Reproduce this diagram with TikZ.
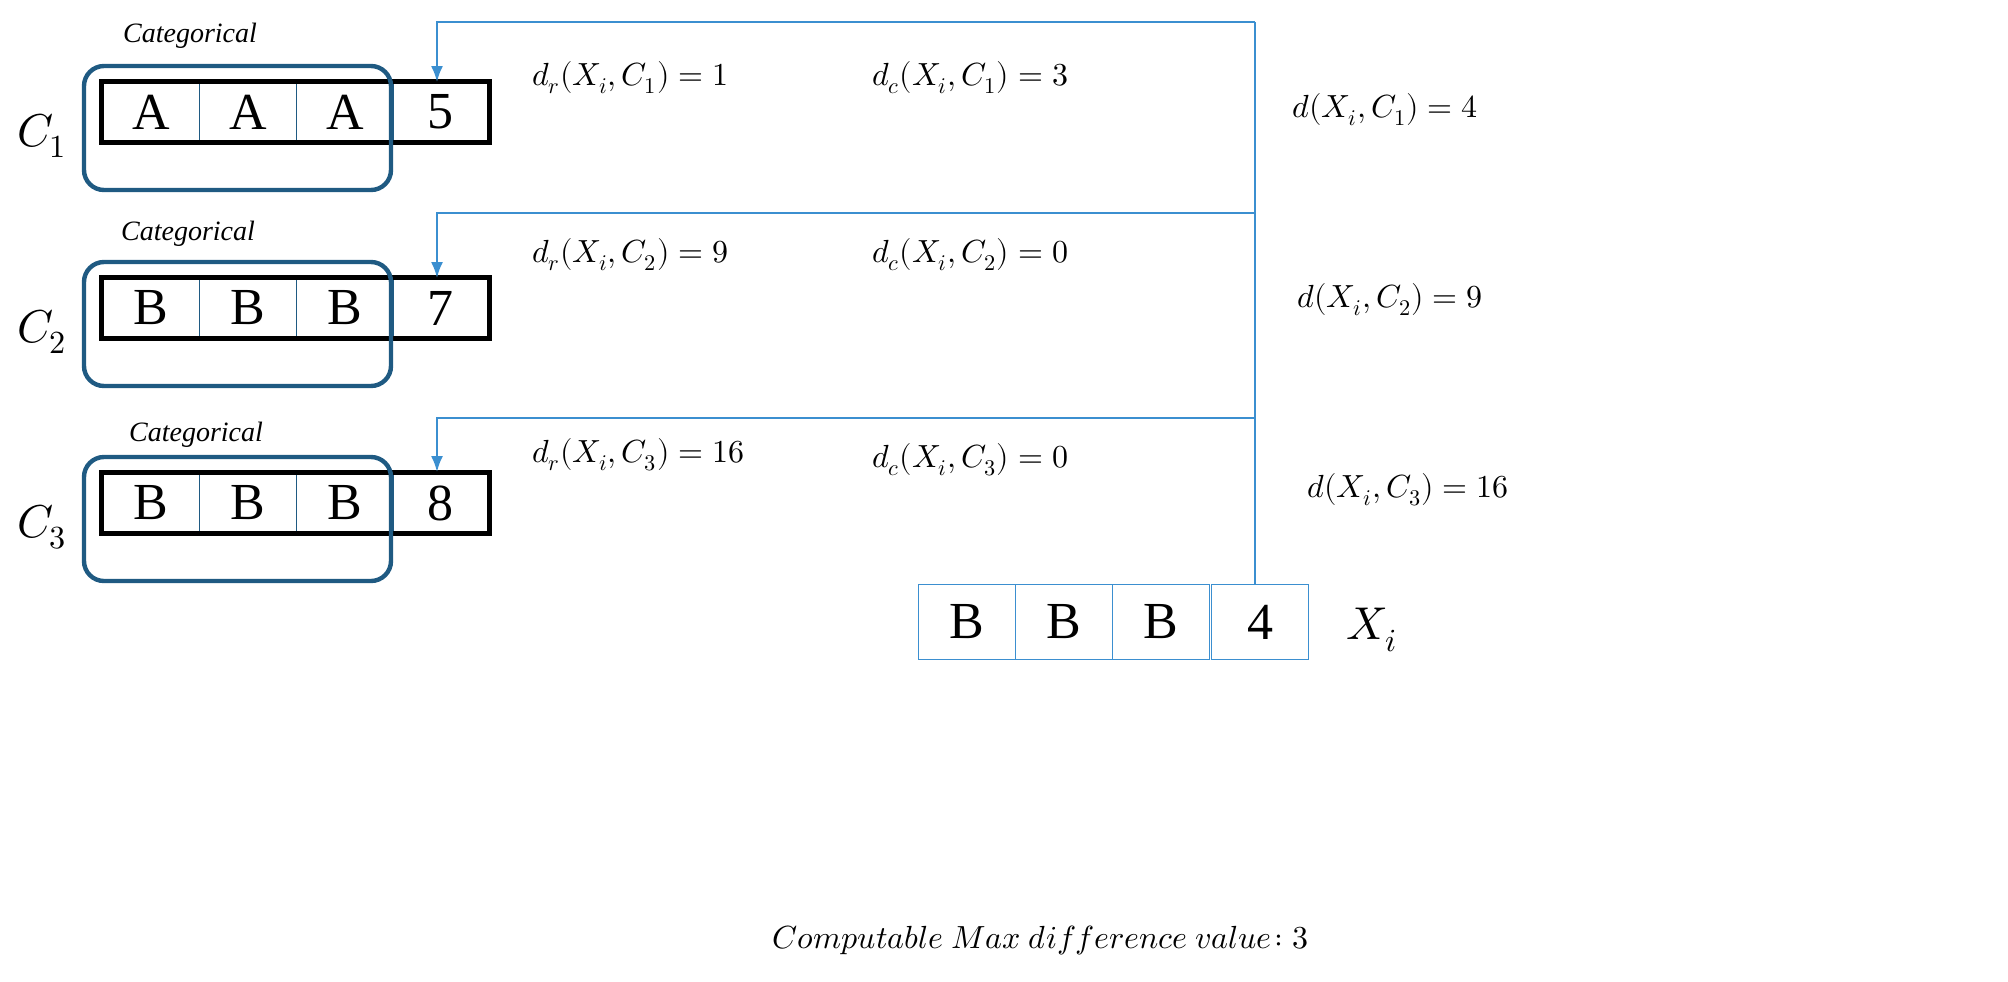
\documentclass[tikz,border=0pt]{standalone}
\usetikzlibrary{arrows.meta}
\usepackage{fontspec}
\setmainfont{Liberation Serif}
\usepackage{unicode-math}
\setmathfont{Latin Modern Math}
\definecolor{dblue}{HTML}{1F5A82}
\definecolor{lblue}{HTML}{3B8FD0}
\begin{document}
\begin{tikzpicture}[x=0.5pt,y=-0.5pt,
  cell/.style={draw=dblue,line width=0.8pt,minimum width=48.5pt,minimum height=30pt,inner sep=0pt,font=\rmfamily\fontsize{26}{26}\selectfont},
  outer/.style={draw=black,line width=2.5pt},
  grp/.style={draw=dblue,line width=2.2pt,rounded corners=10pt},
  xcell/.style={draw=lblue,line width=0.8pt,minimum width=48.5pt,minimum height=37.5pt,inner sep=0pt,font=\rmfamily\fontsize{26}{26}\selectfont},
  conn/.style={draw=lblue,line width=1pt},
  arr/.style={conn,-{Latex[length=8pt,width=6pt]}},
  lab/.style={font=\fontsize{16}{16}\selectfont,anchor=west},
  cat/.style={font=\rmfamily\fontsize{14}{14}\selectfont\itshape}]
\useasboundingbox (0,0) rectangle (2008,981);
% rows
\foreach \r/\y/\a/\n in {1/112/A/5,2/308/B/7,3/503/B/8}{
  \node[cell] (r\r a) at (151,\y) {\a};
  \node[cell] (r\r b) at (248,\y) {\a};
  \node[cell] (r\r c) at (345,\y) {\a};
  \node[cell,draw=none] (r\r d) at (440,\y) {\n};
  \draw[outer] (r\r a.north west) rectangle (r\r d.south east);
  \draw[grp] (84,\y-46) rectangle (391,\y+78);
  \node[font=\fontsize{23}{23}\selectfont] (lab\r) at (42,\y+24) {$C_{\r}$};
}
\node[cat] (cat1) at (190,36) {Categorical};
\node[cat] (cat2) at (188,234) {Categorical};
\node[cat] (cat3) at (196,435) {Categorical};
% Xi
\node[xcell] (x1) at (967,622) {B};
\node[xcell] (x2) at (1064,622) {B};
\node[xcell] (x3) at (1161,622) {B};
\node[xcell] (x4) at (1260,622) {4};
\node[font=\fontsize{23}{23}\selectfont] (xi) at (1372,630) {$X_i$};
% connectors
\coordinate (top) at (1255,22);
\coordinate (m2) at (1255,213);
\coordinate (m3) at (1255,418);
\draw[conn] (x4.north -| top) -- (top);
\draw[arr] (top) -- (437,22) -- (437,82);
\draw[arr] (m2) -- (437,213) -- (437,278);
\draw[arr] (m3) -- (437,418) -- (437,472);
% labels
\node[lab] (dr1) at (525,78) {$d_r(X_i,C_1) = 1$};
\node[lab] (dc1) at (865,78) {$d_c(X_i,C_1) = 3$};
\node[lab] (d1) at (1285,110) {$d(X_i,C_1) = 4$};
\node[lab] (dr2) at (525,255) {$d_r(X_i,C_2) = 9$};
\node[lab] (dc2) at (865,255) {$d_c(X_i,C_2) = 0$};
\node[lab] (d2) at (1290,300) {$d(X_i,C_2) = 9$};
\node[lab] (dr3) at (525,455) {$d_r(X_i,C_3) = 16$};
\node[lab] (dc3) at (865,460) {$d_c(X_i,C_3) = 0$};
\node[lab] (d3) at (1300,490) {$d(X_i,C_3) = 16$};
\node[lab] (cmp) at (765,940) {$Computable\ Max\ difference\ value\!: 3$};
\end{tikzpicture}
\end{document}
